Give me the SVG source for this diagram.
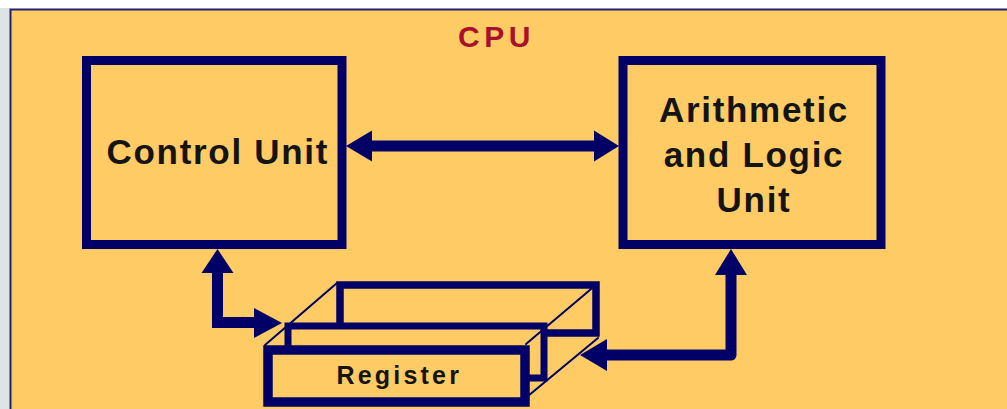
<svg xmlns="http://www.w3.org/2000/svg" width="1007" height="409" viewBox="0 0 1007 409">
  <defs>
    <style>
      .unit { fill: none; stroke: #000066; stroke-width: 9; }
      .layer { fill: #FECB65; stroke: #000066; }
      .edge { fill: none; stroke: #000066; stroke-width: 2; stroke-linecap: round; }
      .bus { fill: none; stroke: #000066; stroke-width: 11; }
      .head { fill: #000066; }
      .label { font-family: "Liberation Sans", Arial, sans-serif; font-weight: bold; fill: #141414; }
      .big { font-size: 35px; letter-spacing: 1.7px; }
      .title { font-family: "Liberation Sans", Arial, sans-serif; font-weight: bold; font-size: 30px; letter-spacing: 4.5px; fill: #A8102C; }
    </style>
  </defs>

  <!-- page background -->
  <rect x="0" y="0" width="1007" height="409" fill="#FFFFFF"/>
  <rect x="0" y="8" width="11" height="401" fill="#DEE4E4"/>

  <!-- CPU enclosure -->
  <g id="cpu">
    <rect x="10.5" y="9.5" width="1010" height="420" fill="#FECB65" stroke="#22226E" stroke-width="2"/>
    <text class="title" x="458" y="46.5">CPU</text>
  </g>

  <!-- Control Unit -->
  <g id="control-unit">
    <rect class="unit" x="86.5" y="60.5" width="255.5" height="184"/>
    <text class="label big" x="106.5" y="163.5">Control Unit</text>
  </g>

  <!-- Arithmetic and Logic Unit -->
  <g id="alu">
    <rect class="unit" x="623" y="60.5" width="258" height="184"/>
    <text class="label big" text-anchor="middle" x="754" y="121.7">Arithmetic</text>
    <text class="label big" text-anchor="middle" x="754" y="166.7">and Logic</text>
    <text class="label big" text-anchor="middle" x="754" y="212.3">Unit</text>
  </g>

  <!-- Register drawn as a stack of three faces in perspective -->
  <g id="register">
    <rect class="layer" x="340" y="285" width="256" height="48" stroke-width="7.5"/>
    <rect class="layer" x="288" y="326" width="256" height="52" stroke-width="7"/>
    <rect class="layer" x="268" y="350" width="257" height="52" stroke-width="9.5"/>
    <line class="edge" x1="265" y1="345" x2="337" y2="283"/>
    <line class="edge" x1="526" y1="344" x2="597" y2="284"/>
    <line class="edge" x1="528" y1="396" x2="598" y2="338"/>
    <text class="label" font-size="25" letter-spacing="3.2" x="336.5" y="383.5">Register</text>
  </g>

  <!-- buses between the units -->
  <g id="connectors">
    <!-- Control Unit <-> ALU -->
    <line class="bus" x1="370" y1="146" x2="597" y2="146"/>
    <polygon class="head" points="346,146 372,130.5 372,161.5"/>
    <polygon class="head" points="619,146 594,130.5 594,161.5"/>

    <!-- Control Unit <-> Register -->
    <polyline class="bus" stroke-linejoin="miter" points="217.5,271 217.5,322.5 256,322.5"/>
    <polygon class="head" points="217.5,249 201.5,273 233.5,273"/>
    <polygon class="head" points="282,323 254,308 254,338"/>

    <!-- ALU <-> Register -->
    <polyline class="bus" stroke-linejoin="round" points="731,273 731,355 604,355"/>
    <polygon class="head" points="731,249 715,275 747,275"/>
    <polygon class="head" points="580,355 607,339 607,371"/>
  </g>
</svg>
